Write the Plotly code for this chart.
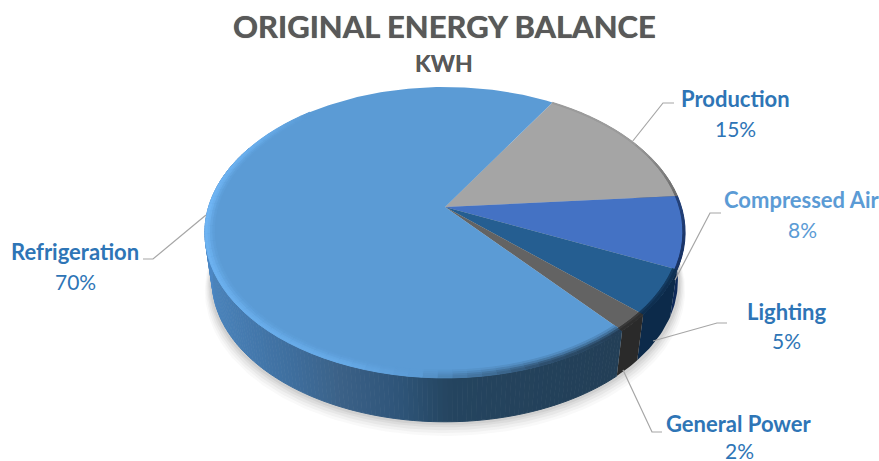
import numpy as np
import plotly.graph_objects as go

# ---- data ----
categories = ["Production", "Compressed Air", "Lighting", "General Power", "Refrigeration"]
shares = [15, 8, 5, 2, 70]
top_colors = ["#a5a5a5", "#4472c4", "#255e91", "#636363", "#5b9bd5"]
side_colors = ["#6e6e6e", "#0e2a5a", "#0c2a4a", "#2a2a2a", None]
label_colors = ["#2e75b6", "#5b9bd5", "#2e75b6", "#2e75b6", "#2e75b6"]
title_text = "ORIGINAL ENERGY BALANCE"
subtitle_text = "KWH"

# ---- style / geometry (pixels of the 879x461 page) ----
W, H = 879, 461
CX, CY = 445.0, 207.0
B, A, K = 236.4, 141.0, 0.175      # perspective of the pie's top face
S, D = 0.97, 49.0                  # how the bottom face relates to the top face
START = 31.5                       # degrees clockwise from "north"
FONT = "Lato"


def top(theta, r=1.0):
    t = np.radians(theta)
    u, v = r * np.sin(t), r * np.cos(t)
    w = 1 + K * v
    return CX + B * u / w, CY - A * v / w


def bottom(theta, grow=0.0, dy=0.0):
    x, y = top(theta)
    return CX + (S + grow) * (x - CX), CY + D + dy + (S + grow) * (y - CY)


def poly(x, y, color, seam=False):
    return go.Scatter(x=x, y=y, mode="lines", fill="toself", fillcolor=color,
                      line=dict(width=1.0 if seam else 0, color=color),
                      hoverinfo="skip", showlegend=False)


def rgb(c):
    return "rgb(%d,%d,%d)" % tuple(c)


def band(a0, a1, ri, ro, color):
    tt = np.linspace(a0, a1, 4)
    xa, ya = top(tt, ri)
    xb, yb = top(tt, ro)
    return poly(np.r_[xa, xb[::-1]], np.r_[ya, yb[::-1]], color, seam=True)


SIDE_STOPS = [(205, (80, 140, 203)), (215, (74, 131, 187)), (290, (63, 111, 159)),
              (340, (60, 98, 136)), (400, (47, 85, 121)), (450, (37, 69, 96)),
              (620, (35, 63, 87))]


def side_color(px):
    xs = [s[0] for s in SIDE_STOPS]
    return rgb([np.interp(px, xs, [s[1][i] for s in SIDE_STOPS]) for i in range(3)])


fig = go.Figure()

cum = np.cumsum([0] + shares) / sum(shares) * 360 + START
edges = [(cum[i], cum[i + 1]) for i in range(len(shares))]

# soft shadow below the pie
th = np.linspace(0, 360, 361)
for grow, dy, alpha in [(0.03, 9, 0.04), (0.025, 7, 0.05), (0.02, 5, 0.06), (0.015, 3, 0.07), (0.01, 1.5, 0.09)]:
    bx, by = bottom(th, grow, dy)
    fig.add_trace(poly(bx, by, f"rgba(90,90,90,{alpha})"))

# side walls
for i, (a0, a1) in enumerate(edges):
    n = max(int((a1 - a0) * 1.0), 4)
    ts = np.linspace(a0, a1, n + 1)
    if side_colors[i] is None:
        for t0, t1 in zip(ts[:-1], ts[1:]):
            tt = np.linspace(t0, t1, 3)
            xa, ya = top(tt)
            xb, yb = bottom(tt)
            x = np.r_[xa, xb[::-1]]
            y = np.r_[ya, yb[::-1]]
            if y.max() < 200:
                continue
            fig.add_trace(poly(x, y, side_color(x.mean()), seam=True))
    else:
        xa, ya = top(ts)
        xb, yb = bottom(ts)
        fig.add_trace(poly(np.r_[xa, xb[::-1]], np.r_[ya, yb[::-1]], side_colors[i]))

# top face
for i, (a0, a1) in enumerate(edges):
    ts = np.linspace(a0, a1, max(int(a1 - a0), 3) + 1)
    x, y = top(ts)
    fig.add_trace(poly(np.r_[CX, x], np.r_[CY, y], top_colors[i]))

# bevel along the rim of the refrigeration slice: light on the left, dark at the front
r0, r1 = edges[4]
rings = [(0.962, 0.972, 0.18), (0.972, 0.982, 0.45), (0.982, 0.991, 0.8), (0.991, 1.0, 1.0)]
base = np.array([91, 155, 213])
for t0 in np.arange(r0, r1, 3.0):
    t1 = min(t0 + 3.0, r1)
    mid = (t0 + t1) / 2 % 360
    if not 140 <= mid <= 320:
        continue
    lit = np.interp(mid, [140, 160, 178, 200, 270, 300, 320], [-1.0, -0.8, -0.3, 0.55, 1.0, 0.7, 0.0])
    tgt = np.array([112, 182, 245]) if lit > 0 else np.array([36, 62, 86])
    for ri, ro, gain in rings:
        fig.add_trace(band(t0, t1, ri, ro, rgb(base + (tgt - base) * abs(lit) * gain)))

# thin dark bevel on the remaining rim of the other slices
dark_targets = [(70, 70, 70), (15, 35, 75), (12, 40, 70), (40, 40, 40)]
for i in range(4):
    a0, a1 = edges[i]
    base_i = np.array([int(top_colors[i][j:j + 2], 16) for j in (1, 3, 5)])
    for t0 in np.arange(a0, a1, 3.0):
        t1 = min(t0 + 3.0, a1)
        mid = (t0 + t1) / 2
        amount = np.interp(mid, [60, 85, 110, 140], [0.1, 0.6, 0.8, 0.9])
        for ri, ro, gain in (rings[3:] if i < 2 else rings[2:]):
            fig.add_trace(band(t0, t1, ri, ro, rgb(base_i + (np.array(dark_targets[i]) - base_i) * amount * gain)))

# leader lines
leader_x = [[632, 663, 674], [675, 710, 721], [653, 717, 727], [623, 652, 662], [206, 153, 143]]
leader_y = [[142, 103, 103], [280, 213, 213], [341, 323, 323], [370, 432, 432], [215, 259, 259]]
for lx, ly in zip(leader_x, leader_y):
    fig.add_trace(go.Scatter(x=lx, y=ly, mode="lines", line=dict(color="#a6a6a6", width=1.2),
                             hoverinfo="skip", showlegend=False))

# labels
label_x = [735, 802, 786, 739, 75]
name_y = [98, 199, 311, 423, 251]
pct_y = [128, 229, 340, 450, 281]
for i, cat in enumerate(categories):
    fig.add_annotation(x=label_x[i], y=name_y[i], text=f"<b>{cat}</b>", showarrow=False,
                       font=dict(family=FONT, size=22, color=label_colors[i]))
    fig.add_annotation(x=label_x[i], y=pct_y[i], text=f"{shares[i]}%", showarrow=False,
                       font=dict(family=FONT, size=21, color=label_colors[i]))

fig.add_annotation(x=444.5, y=26, text=f"<b>{title_text}</b>", showarrow=False,
                   font=dict(family=FONT, size=31, color="#595959", shadow="0 0 0.7px #595959"))
fig.add_annotation(x=444, y=63, text=f"<b>{subtitle_text}</b>", showarrow=False,
                   font=dict(family=FONT, size=23, color="#595959", shadow="0 0 0.5px #595959"))

fig.update_layout(width=W, height=H, margin=dict(l=0, r=0, t=0, b=0), autosize=False,
                  paper_bgcolor="white", plot_bgcolor="white", showlegend=False,
                  xaxis=dict(range=[0, W], visible=False, fixedrange=True),
                  yaxis=dict(range=[H, 0], visible=False, fixedrange=True))
fig.write_html("out.html", config={"displayModeBar": False},
               post_script="document.body.style.margin='0';document.body.style.overflow='hidden';")
